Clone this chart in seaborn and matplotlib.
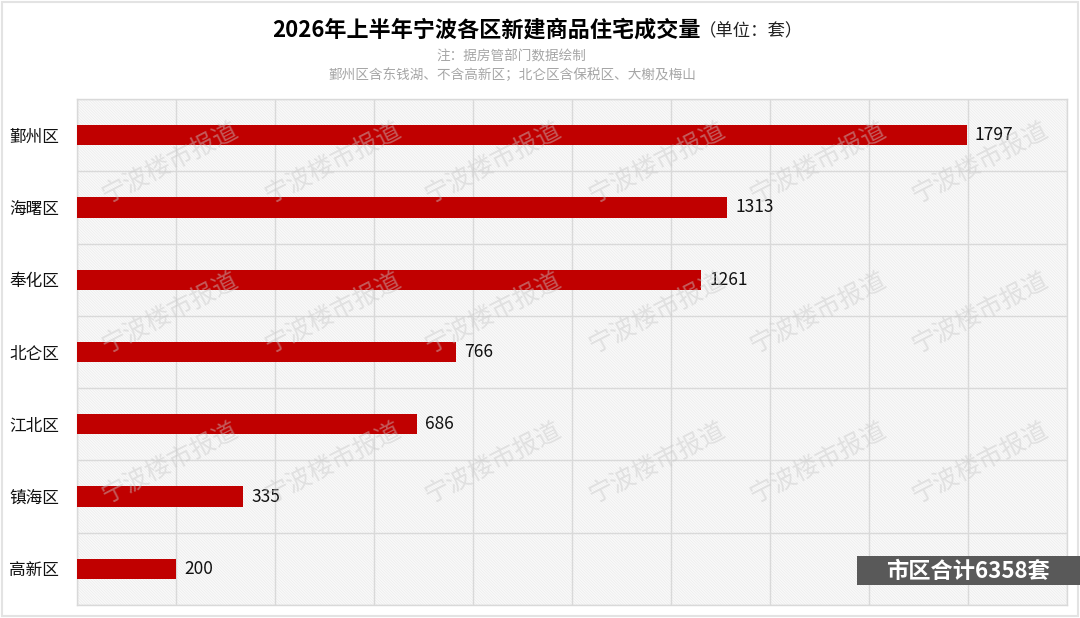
import matplotlib
matplotlib.use("Agg")
import matplotlib.pyplot as plt
from matplotlib.patches import Rectangle
import seaborn as sns
import pandas as pd

# 数据
districts = ["鄞州区", "海曙区", "奉化区", "北仑区", "江北区", "镇海区", "高新区"]
volumes = [1797, 1313, 1261, 766, 686, 335, 200]
total_label = "市区合计6358套"
title = "2026年上半年宁波各区新建商品住宅成交量"
unit = "（单位：套）"
note1 = "注：据房管部门数据绘制"
note2 = "鄞州区含东钱湖、不含高新区；北仑区含保税区、大榭及梅山"
watermark = "宁波楼市报道"

df = pd.DataFrame({"区": districts, "成交量": volumes})

sns.set_theme(style="white")
plt.rcParams["font.family"] = ["Noto Sans CJK SC", "DejaVu Sans"]
plt.rcParams["hatch.linewidth"] = 0.5

fig = plt.figure(figsize=(10.8, 6.18), dpi=100)
fig.patch.set_facecolor("white")
ax = fig.add_axes([77 / 1080, 1 - 605 / 618, 990 / 1080, 506 / 618])

# 斜纹背景
ax.set_facecolor("#fafafa")
bg = Rectangle((0, 0), 1, 1, transform=ax.transAxes, facecolor="#fafafa",
               edgecolor="#ebebeb", hatch="\\" * 12, linewidth=0, zorder=0)
ax.add_patch(bg)

sns.barplot(data=df, x="成交量", y="区", orient="h", color="#c00000",
            width=0.28, saturation=1, linewidth=0, ax=ax, zorder=3)

ax.bar_label(ax.containers[0], labels=[str(v) for v in volumes],
             padding=6, fontsize=12.5, color="#111111")

ax.set_xlim(0, 2000)
ax.set_ylim(len(districts) - 0.5, -0.5)
ax.set_xticks(range(0, 2001, 200))
ax.set_xticklabels([])
ax.set_yticks(range(len(districts)))
ax.set_yticks([i + 0.5 for i in range(-1, len(districts))], minor=True)
ax.tick_params(axis="x", length=0)
ax.tick_params(axis="y", which="major", length=0, pad=13, labelsize=12,
               labelcolor="#111111")
ax.tick_params(axis="y", which="minor", length=5, width=1, color="#d9d9d9")
ax.grid(axis="x", which="major", color="#d9d9d9", linewidth=1, zorder=1)
ax.grid(axis="y", which="minor", color="#d9d9d9", linewidth=1, zorder=1)
ax.set_axisbelow(True)
ax.set_xlabel("")
ax.set_ylabel("")
for s in ax.spines.values():
    s.set_color("#d9d9d9")
    s.set_linewidth(1)

# 水印
for yc in [163, 313, 463]:
    for xc in [170, 333, 493, 657, 818, 980]:
        ax.text((xc - 77) / 990, (605 - yc) / 506, watermark,
                transform=ax.transAxes, fontsize=18, color="#c8c8c8",
                alpha=0.45, rotation=27, ha="center", va="center", zorder=5)

# 标题
fig.text(272 / 1080, 1 - 30 / 618, title, fontsize=15.9, fontweight="bold",
         color="#000000", ha="left", va="center")
fig.text(699 / 1080, 1 - 31 / 618, unit, fontsize=12.5, color="#222222",
         ha="left", va="center")
fig.text(511 / 1080, 1 - 56 / 618, note1, fontsize=9.8, color="#a6a6a6",
         ha="center", va="center")
fig.text(512 / 1080, 1 - 75 / 618, note2, fontsize=9.8, color="#a6a6a6",
         ha="center", va="center")

# 合计标签
fig.patches.append(Rectangle((857 / 1080, 1 - 585 / 618), 223 / 1080, 29 / 618,
                             transform=fig.transFigure, facecolor="#595959",
                             edgecolor="none", zorder=10))
fig.text(968 / 1080, 1 - 571 / 618, total_label, fontsize=16, fontweight="bold",
         color="white", ha="center", va="center", zorder=11)

# 外框
fig.patches.append(Rectangle((2 / 1080, 2 / 618), 1076 / 1080, 614 / 618,
                             transform=fig.transFigure, fill=False,
                             edgecolor="#e3e3e3", linewidth=1.5, zorder=0))

fig.savefig("out.png", dpi=100)
